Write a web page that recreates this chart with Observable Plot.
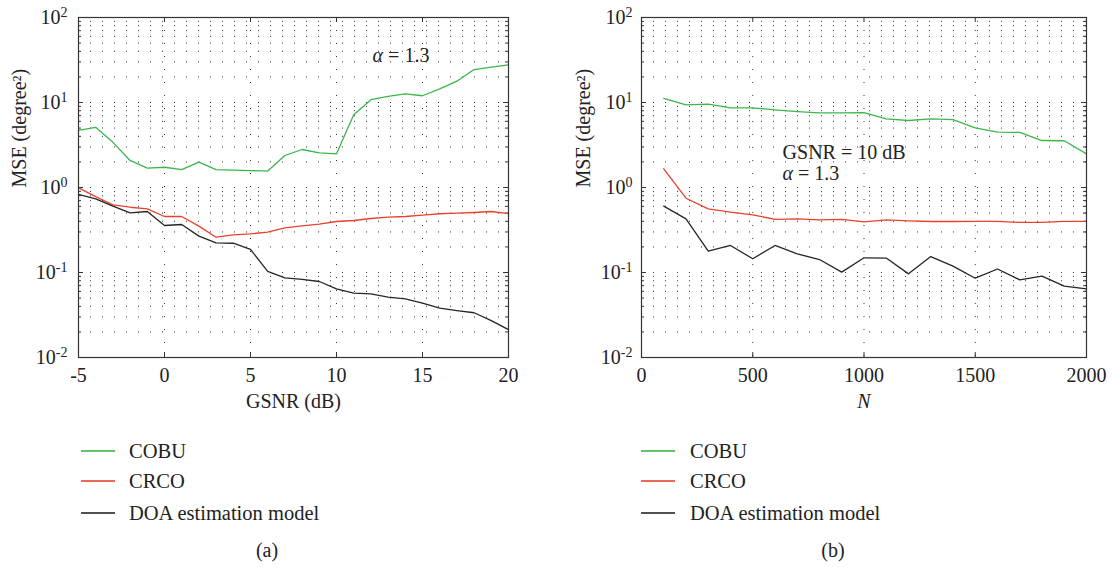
<!DOCTYPE html>
<html><head><meta charset="utf-8">
<script src="https://cdn.jsdelivr.net/npm/d3@7"></script>
<script src="https://cdn.jsdelivr.net/npm/@observablehq/plot@0.6"></script>
<style>
body{margin:0;background:#fff;font-family:"Liberation Serif","Times New Roman",Times,"DejaVu Serif",serif;}
#wrap{position:relative;width:1113px;height:567px;overflow:hidden;background:#fff;}
.panel{position:absolute;top:0;}
.lg{position:absolute;font-size:20.5px;color:#222;white-space:nowrap;height:24px;line-height:24px;}
.sw{position:absolute;height:2px;width:34px;}
.cap{position:absolute;font-size:20px;color:#222;transform:translateX(-50%);line-height:24px;}
</style></head><body><div id="wrap"></div>
<script>
// ---- data ----
const seriesNames = ["COBU", "CRCO", "DOA estimation model"];
const seriesColors = ["#3db54a", "#e8412c", "#262626"];

// panel (a): MSE vs GSNR (dB)
const gsnr = [-5,-4,-3,-2,-1,0,1,2,3,4,5,6,7,8,9,10,11,12,13,14,15,16,17,18,19,20];
const cobuA = [4.69,5.1,3.4,2.08,1.69,1.73,1.62,1.99,1.62,1.6,1.58,1.56,2.38,2.8,2.56,2.49,7.16,10.8,11.8,12.6,12.0,14.5,17.8,24.4,26.1,27.7];
const crcoA = [0.99,0.78,0.625,0.586,0.561,0.456,0.456,0.351,0.26,0.277,0.285,0.298,0.335,0.354,0.37,0.398,0.409,0.432,0.448,0.456,0.473,0.491,0.499,0.508,0.522,0.494];
const doaA  = [0.828,0.736,0.603,0.504,0.522,0.357,0.367,0.268,0.223,0.221,0.187,0.103,0.0866,0.0828,0.0784,0.0643,0.0571,0.0561,0.0513,0.049,0.0435,0.038,0.0357,0.0336,0.0272,0.0213];

// panel (b): MSE vs N
const nValues = [100,200,300,400,500,600,700,800,900,1000,1100,1200,1300,1400,1500,1600,1700,1800,1900,2000];
const cobuB = [11.2,9.4,9.55,8.65,8.65,8.2,7.83,7.55,7.55,7.62,6.42,6.14,6.42,6.3,5.04,4.48,4.45,3.57,3.55,2.49];
const crcoB = [1.66,0.748,0.561,0.513,0.477,0.421,0.428,0.417,0.421,0.394,0.416,0.405,0.398,0.398,0.40,0.40,0.388,0.388,0.40,0.40];
const doaB  = [0.603,0.428,0.178,0.208,0.145,0.208,0.166,0.142,0.101,0.149,0.148,0.0964,0.154,0.119,0.0857,0.110,0.082,0.0906,0.069,0.0643];

// axes
const yTicks = [0.01, 0.1, 1, 10, 100];
const yTickLabels = ["10^-2", "10^-1", "10^0", "10^1", "10^2"];
const xTicksA = [-5, 0, 5, 10, 15, 20];
const xTicksB = [0, 500, 1000, 1500, 2000];
const annA = [{x: 12.1, y: 36, label: "α = 1.3"}];
const annB = [{x: 634, y: 2.6, label: "GSNR = 10 dB"}, {x: 634, y: 1.46, label: "α = 1.3"}];

const FONT = '"Liberation Serif", "Times New Roman", Times, "DejaVu Serif", serif';

// ---- helpers ----
const minorY = [];
for (const d of [0.01, 0.1, 1, 10]) for (let k = 2; k <= 9; k++) minorY.push(+(d * k).toPrecision(3));
const innerDecades = [0.1, 1, 10];

function tableOf(xs, arrs) {
  const rows = [];
  arrs.forEach((a, i) => a.forEach((v, j) => rows.push({x: xs[j], y: v, series: seriesNames[i]})));
  return rows;
}

function panel(o) {
  const height = 420, mt = 17, mb = 63;
  const pw = o.width - o.ml - o.mr, ph = height - mt - mb;
  const ink = "#333";
  const svg = Plot.plot({
    width: o.width, height,
    marginLeft: o.ml, marginRight: o.mr, marginTop: mt, marginBottom: mb,
    style: {fontFamily: FONT, fontSize: "20px", color: "#222", background: "transparent"},
    x: {domain: o.xDomain, label: null},
    y: {type: "log", domain: [0.01, 100], label: null},
    color: {domain: seriesNames, range: seriesColors},
    marks: [
      Plot.ruleY(minorY.concat(innerDecades), {stroke: ink, strokeWidth: 1, strokeDasharray: "1,11"}),
      Plot.ruleX(o.xTicks.slice(1, -1), {stroke: ink, strokeWidth: 1, strokeDasharray: "1,12"}),
      Plot.tickY(minorY, {y: d => d, insetRight: pw - 3, stroke: ink}),
      Plot.tickY(minorY, {y: d => d, insetLeft: pw - 3, stroke: ink}),
      Plot.tickY(innerDecades, {y: d => d, insetRight: pw - 5, stroke: ink}),
      Plot.tickY(innerDecades, {y: d => d, insetLeft: pw - 5, stroke: ink}),
      Plot.tickX(o.xTicks.slice(1, -1), {x: d => d, insetTop: ph - 5, stroke: ink}),
      Plot.tickX(o.xTicks.slice(1, -1), {x: d => d, insetBottom: ph - 5, stroke: ink}),
      Plot.line(o.table, {x: "x", y: "y", z: "series", stroke: "series", strokeWidth: 1.3}),
      Plot.frame({stroke: ink, strokeWidth: 1.2}),
      Plot.axisX(o.xTicks, {tickSize: 0, tickPadding: 10, tickFormat: d => String(d), fontSize: 20, label: null}),
      Plot.axisY(yTicks, {tickSize: 0, tickPadding: o.tp, tickFormat: (d) => yTickLabels[yTicks.indexOf(d)], fontSize: 20, label: null}),
      Plot.text([o.xLabel], {frameAnchor: "bottom", dy: 50, text: d => d, fontSize: 20, fontStyle: o.xItalic ? "italic" : "normal", fill: "#222"}),
      Plot.text(["MSE (degree²)"], {frameAnchor: "left", dx: -o.ylx, rotate: -90, text: d => d, fontSize: 20, fill: "#222"}),
      Plot.text(o.ann, {x: "x", y: "y", text: "label", textAnchor: "start", fontSize: 20, fill: "#222"})
    ]
  });
  d3.select(svg).style("font-family", FONT);
  // superscripts and italic alpha
  d3.select(svg).selectAll("text").each(function () {
    const t = this.textContent;
    const m = /^10\^(-?\d)$/.exec(t);
    if (m) {
      this.textContent = "10";
      d3.select(this).append("tspan").attr("dy", "-0.5em").attr("font-size", "14px").text(m[1]);
    } else if (t.startsWith("α")) {
      this.textContent = "";
      d3.select(this).append("tspan").attr("font-style", "italic").text("α");
      d3.select(this).append("tspan").text(t.slice(1));
    }
  });
  return svg;
}

const wrap = document.getElementById("wrap");
function place(node, left) {
  const d = document.createElement("div");
  d.className = "panel"; d.style.left = left + "px";
  d.appendChild(node); wrap.appendChild(d);
}
place(panel({width: 556, ml: 78, mr: 48, tp: 11, ylx: 59, xDomain: [-5, 20], xTicks: xTicksA,
  xLabel: "GSNR (dB)", xItalic: false, ann: annA, table: tableOf(gsnr, [cobuA, crcoA, doaA])}), 0);
place(panel({width: 557, ml: 85, mr: 27, tp: 9, ylx: 58, xDomain: [0, 2000], xTicks: xTicksB,
  xLabel: "N", xItalic: true, ann: annB, table: tableOf(nValues, [cobuB, crcoB, doaB])}), 556);

// legends and captions
const rowsY = [451, 481, 513];
function legend(swX, txtX) {
  seriesNames.forEach((name, i) => {
    const s = document.createElement("div");
    s.className = "sw"; s.style.left = swX + "px"; s.style.top = (rowsY[i] - 1) + "px";
    s.style.background = seriesColors[i]; s.style.opacity = 0.8;
    wrap.appendChild(s);
    const t = document.createElement("div");
    t.className = "lg"; t.style.left = txtX + "px"; t.style.top = (rowsY[i] - 12) + "px";
    t.textContent = name; wrap.appendChild(t);
  });
}
legend(81, 129);
legend(641, 690);
[["(a)", 267], ["(b)", 833]].forEach(([c, x]) => {
  const d = document.createElement("div");
  d.className = "cap"; d.style.left = x + "px"; d.style.top = "538px"; d.textContent = c;
  wrap.appendChild(d);
});
</script></body></html>
